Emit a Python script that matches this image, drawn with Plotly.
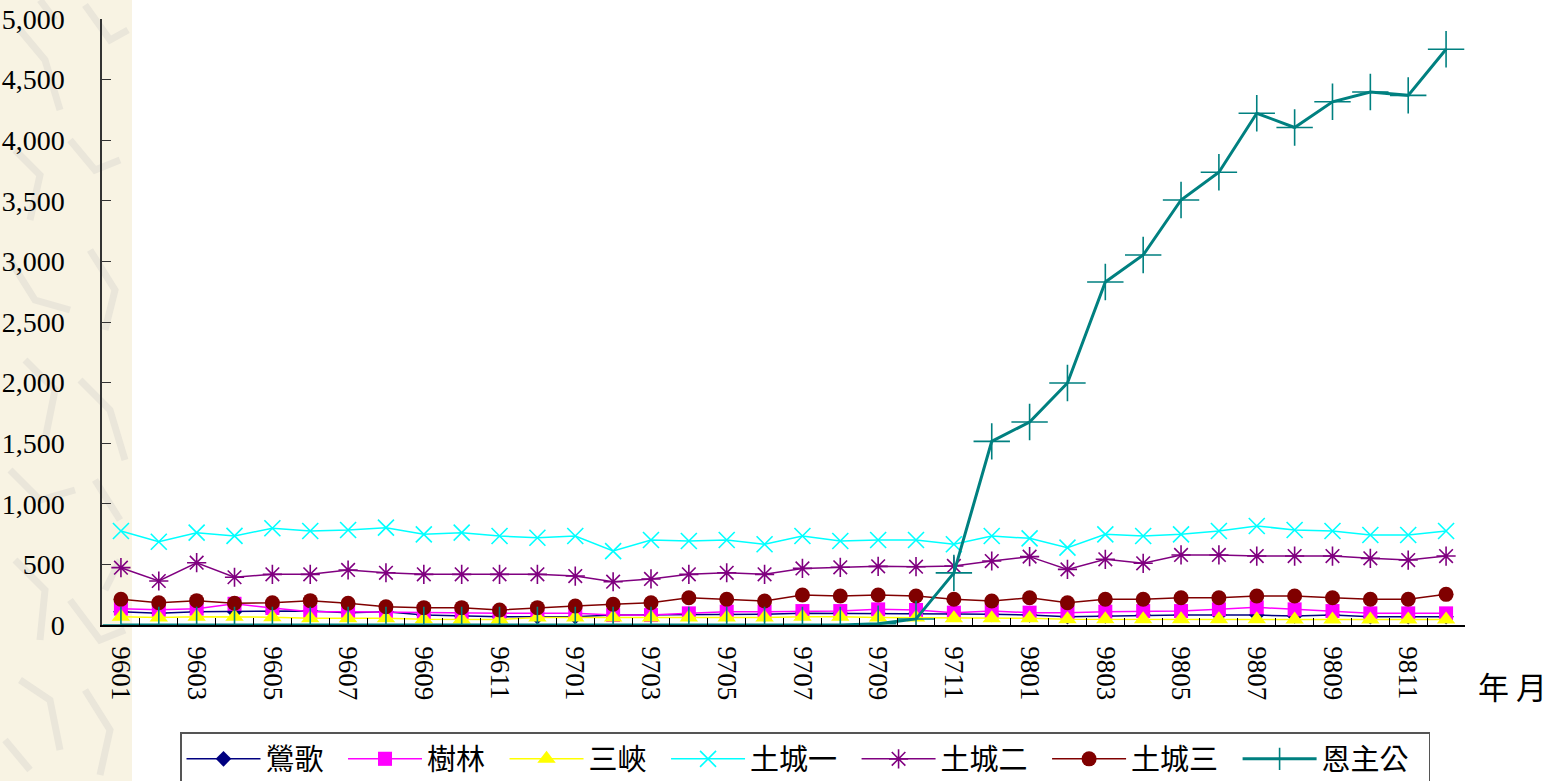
import plotly.graph_objects as go

# 年月 (民國年 + 月)
months = [
    "9601", "9602", "9603", "9604", "9605", "9606", "9607", "9608", "9609", "9610", "9611", "9612",
    "9701", "9702", "9703", "9704", "9705", "9706", "9707", "9708", "9709", "9710", "9711", "9712",
    "9801", "9802", "9803", "9804", "9805", "9806", "9807", "9808", "9809", "9810", "9811", "9812",
]
# every other month is labelled on the axis
month_labels = [m if i % 2 == 0 else "" for i, m in enumerate(months)]

yingge = [110, 96, 110, 110, 110, 115, 102, 110, 82, 74, 69, 69,
          69, 82, 82, 88, 88, 88, 96, 96, 96, 96, 90, 88,
          82, 69, 74, 82, 82, 82, 82, 74, 82, 69, 69, 69]
shulin = [135, 125, 135, 175, 140, 110, 110, 105, 105, 100, 96, 96,
          96, 82, 82, 96, 110, 110, 115, 115, 129, 124, 102, 115,
          102, 102, 110, 115, 115, 129, 146, 129, 115, 96, 96, 96]
sanxia = [69, 61, 69, 69, 64, 55, 55, 55, 47, 45, 45, 61,
          61, 61, 61, 61, 61, 61, 69, 69, 61, 61, 55, 55,
          55, 47, 47, 47, 47, 47, 47, 45, 45, 45, 45, 45]
tucheng1 = [776, 687, 762, 735, 798, 776, 784, 803, 748, 762, 734, 720,
            734, 610, 701, 693, 701, 666, 734, 693, 701, 701, 666, 734,
            715, 638, 748, 734, 748, 776, 817, 784, 776, 743, 743, 776]
tucheng2 = [473, 363, 514, 394, 418, 418, 454, 431, 418, 418, 418, 418,
            404, 357, 380, 418, 431, 418, 467, 476, 484, 481, 487, 528,
            564, 459, 542, 509, 578, 578, 569, 569, 569, 550, 536, 569]
tucheng3 = [212, 184, 201, 179, 184, 201, 179, 151, 143, 143, 124, 143,
            157, 171, 184, 225, 212, 198, 248, 239, 248, 239, 212, 198,
            225, 184, 212, 212, 225, 225, 239, 239, 225, 212, 212, 253]
enzhugong = [0, 0, 0, 0, 0, 0, 0, 0, 0, 0, 0, 0,
             0, 0, 0, 0, 0, 0, 0, 0, 10, 50, 430, 1515,
             1675, 1997, 2830, 3053, 3507, 3735, 4222, 4105, 4317, 4398, 4370, 4751]

series = [
    ("鶯歌", yingge, "#000080", "diamond", 12, 1.5),
    ("樹林", shulin, "#FF00FF", "square", 14, 1.5),
    ("三峽", sanxia, "#FFFF00", "triangle-up", 16, 1.5),
    ("土城一", tucheng1, "#00FFFF", "x-thin-open", 16, 1.5),
    ("土城二", tucheng2, "#800080", "asterisk-open", 16, 1.5),
    ("土城三", tucheng3, "#800000", "circle", 15, 1.5),
    ("恩主公", enzhugong, "#008080", "cross-thin-open", 26, 3),
]

fig = go.Figure()
for name, vals, color, symbol, size, width in series:
    open_marker = symbol.endswith("-open")
    fig.add_trace(go.Scatter(
        x=months, y=vals, name=name + "\u2002", mode="lines+markers",
        line=dict(color=color, width=width),
        marker=dict(symbol=symbol, size=size, color=color,
                    line=dict(color=color, width=1.6 if open_marker else 0)),
    ))

serif = "Liberation Serif, Times New Roman, serif"
cjk = "Noto Sans CJK TC, Noto Sans CJK SC, sans-serif"

# plot area in pixels (used to place the strip, legend and unit label)
L, R, T, B = 102, 1465, 19, 625


def px(x, y):
    return (x - L) / (R - L), (B - y) / (B - T)


# faint strokes giving the left strip its paper texture
strokes = [
    [(20, 30), (45, 60), (60, 110)], [(85, 5), (110, 40), (128, 30)],
    [(15, 150), (40, 175), (30, 220)], [(70, 140), (95, 170), (120, 160)],
    [(10, 260), (35, 300), (70, 310)], [(90, 250), (115, 290), (105, 330)],
    [(25, 360), (55, 390), (45, 440)], [(80, 380), (110, 410), (125, 460)],
    [(10, 470), (40, 500), (75, 490)], [(95, 480), (120, 520)],
    [(15, 560), (45, 590), (40, 640)], [(70, 600), (100, 640), (125, 630)],
    [(20, 680), (50, 700), (60, 750)], [(85, 690), (110, 730), (100, 775)],
    [(5, 740), (30, 770)], [(55, 20), (40, 0)], [(120, 560), (105, 590)],
]
shapes = [
    dict(type="rect", xref="paper", yref="paper",
         x0=px(0, 0)[0], x1=px(132, 0)[0], y0=px(0, 790)[1], y1=px(0, -10)[1],
         fillcolor="#F8F3E3", line=dict(width=0), layer="below"),
]
for pts in strokes:
    path = "M" + " L".join(f"{px(x, y)[0]:.5f},{px(x, y)[1]:.5f}" for x, y in pts)
    shapes.append(dict(type="path", xref="paper", yref="paper", path=path,
                       line=dict(color="#EAE6DA", width=7), layer="below"))

fig.update_layout(
    width=1557, height=781,
    margin=dict(l=L, r=1557 - R, t=T, b=781 - B, autoexpand=False),
    paper_bgcolor="white", plot_bgcolor="white",
    showlegend=True,
    legend=dict(
        orientation="h", x=px(180, 0)[0], xanchor="left", y=px(0, 732)[1], yanchor="top",
        font=dict(family=cjk, size=29, color="black"),
        bordercolor="#555555", borderwidth=1.5, bgcolor="white",
        itemwidth=74, tracegroupgap=0,
    ),
    xaxis=dict(
        type="category", categoryorder="array", categoryarray=months,
        tickmode="array", tickvals=months, ticktext=month_labels,
        tickson="boundaries", ticks="inside", ticklen=7, tickwidth=1, tickcolor="black",
        tickangle=90, tickfont=dict(family=serif, size=27, color="black"),
        ticklabelstandoff=14,
        showline=True, linecolor="black", linewidth=1.5,
        showgrid=False, zeroline=False, range=[-0.5, 35.5],
    ),
    yaxis=dict(
        range=[0, 5000], tickmode="linear", tick0=0, dtick=500, tickformat=",d",
        ticks="inside", ticklen=9, tickwidth=1.2, tickcolor="#333333",
        tickfont=dict(family=serif, size=28, color="black"),
        ticklabelstandoff=30,
        showline=True, linecolor="#333333", linewidth=1.5,
        showgrid=False, zeroline=False,
    ),
    shapes=shapes,
    annotations=[
        dict(text="年 月", xref="paper", yref="paper", x=px(1512, 0)[0], y=px(0, 685)[1],
             xanchor="center", yanchor="middle", showarrow=False,
             font=dict(family=cjk, size=31, color="black")),
    ],
)

fig.write_html("out.html")
